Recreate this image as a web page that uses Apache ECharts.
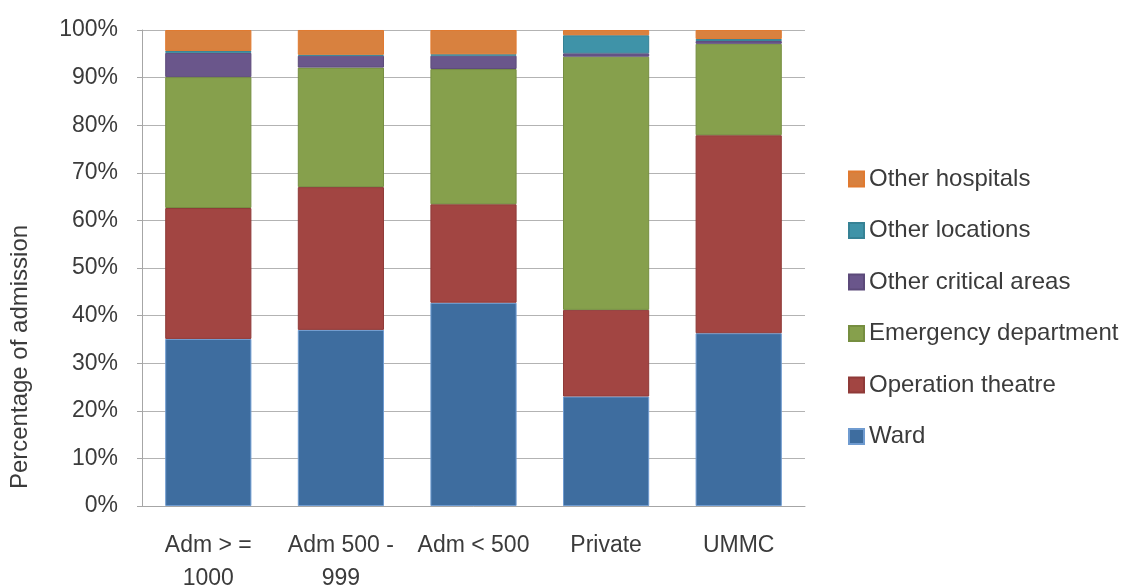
<!DOCTYPE html>
<html>
<head>
<meta charset="utf-8">
<script src="https://cdn.jsdelivr.net/npm/echarts@6/dist/echarts.min.js"></script>
<style>
  html, body { margin: 0; padding: 0; background: #fff; }
  #chart { width: 1134px; height: 588px; }
</style>
</head>
<body>
<div id="chart"></div>
<script>
// categories (x axis)
const categories = ['Adm > =\n1000', 'Adm 500 -\n999', 'Adm < 500', 'Private', 'UMMC']

// share of admissions by source, in %
const ward = [35.1, 37.0, 42.7, 23.0, 36.3]
const operationTheatre = [27.5, 30.0, 20.7, 18.2, 41.6]
const emergencyDept = [27.5, 25.1, 28.4, 53.2, 19.2]
const otherCritical = [5.1, 2.5, 2.8, 0.7, 0.6]
const otherLocations = [0.4, 0.2, 0.3, 3.8, 0.4]
const otherHospitals = [4.4, 5.2, 5.1, 1.1, 1.9]

const yTicks = [0, 10, 20, 30, 40, 50, 60, 70, 80, 90, 100]

const font = 'Liberation Sans'
const textColor = '#3b3b3b'

// 堆叠系列
const makeSeries = (name, data, color, border) => ({
    name,
    type: 'bar',
    stack: 'total',
    barWidth: '65%',
    data,
    itemStyle: { color, borderColor: border, borderWidth: 1 },
})

const chart = echarts.init(document.getElementById('chart'))
chart.setOption({
    animation: false,
    textStyle: { fontFamily: font },
    grid: { left: 142, right: 329, top: 30, bottom: 82, outerBoundsMode: 'none' },
    legend: {
        orient: 'vertical',
        left: 843,
        top: 162,
        itemWidth: 15,
        itemHeight: 15,
        itemGap: 27.5,
        icon: 'rect',
        textStyle: { fontFamily: font, fontSize: 24, lineHeight: 24, color: textColor },
        data: ['Other hospitals', 'Other locations', 'Other critical areas', 'Emergency department', 'Operation theatre', 'Ward'],
    },
    xAxis: {
        type: 'category',
        data: categories,
        axisLine: { lineStyle: { color: '#a6a6a6' } },
        axisTick: { show: false },
        axisLabel: { fontFamily: font, fontSize: 23, color: textColor, lineHeight: 33, margin: 23, interval: 0 },
    },
    yAxis: {
        type: 'value',
        min: 0,
        max: 100,
        interval: 10,
        axisLine: { show: true, lineStyle: { color: '#a6a6a6' } },
        axisTick: { show: true, length: 5, lineStyle: { color: '#a6a6a6' } },
        splitLine: { lineStyle: { color: '#b3b3b3', width: 1 } },
        axisLabel: {
            fontFamily: font,
            fontSize: 23,
            color: textColor,
            margin: 24,
            formatter: (v) => (yTicks.includes(v) ? v + '%' : ''),
        },
    },
    graphic: [
        {
            type: 'text',
            x: 20,
            y: 357,
            rotation: Math.PI / 2,
            style: {
                text: 'Percentage of admission',
                fontFamily: font,
                fontSize: 24,
                fill: textColor,
                align: 'center',
                verticalAlign: 'middle',
            },
        },
    ],
    series: [
        makeSeries('Ward', ward, '#3e6d9f', '#6f9bd0'),
        makeSeries('Operation theatre', operationTheatre, '#a24542', '#8f3a38'),
        makeSeries('Emergency department', emergencyDept, '#86a04c', '#768e40'),
        makeSeries('Other critical areas', otherCritical, '#6a568b', '#5c4a7a'),
        makeSeries('Other locations', otherLocations, '#3f93a8', '#368295'),
        makeSeries('Other hospitals', otherHospitals, '#d8813f', '#e07a30'),
    ],
})
</script>
</body>
</html>
